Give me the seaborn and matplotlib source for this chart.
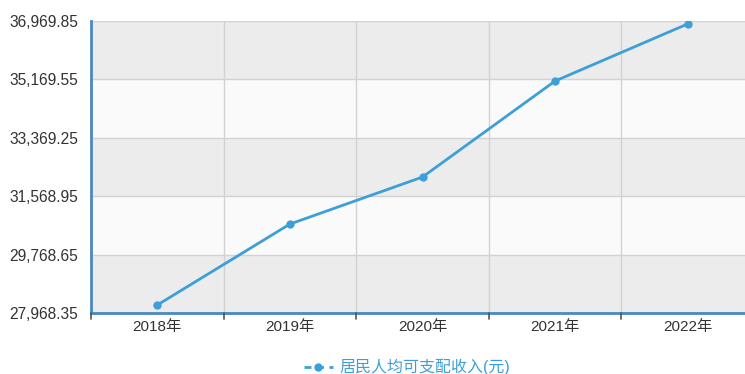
import matplotlib
matplotlib.use("Agg")
import matplotlib.pyplot as plt
import seaborn as sns
import pandas as pd
from matplotlib.lines import Line2D

years = ["2018年", "2019年", "2020年", "2021年", "2022年"]
income = [28215, 30710, 32160, 35120, 36880]
yticks = [27968.35, 29768.65, 31568.95, 33369.25, 35169.55, 36969.85]
series_name = "居民人均可支配收入(元)"

sns.set_theme(style="white")
plt.rcParams['font.family'] = ['Liberation Sans', 'Noto Sans CJK SC', 'DejaVu Sans']

df = pd.DataFrame({"year": years, "income": income, "x": range(len(years))})

fig = plt.figure(figsize=(7.45, 3.74), dpi=100)
W, H = 745, 374
ax = fig.add_axes([91 / W, (H - 313) / H, (754 - 91) / W, (313 - 21) / H])

line_color = "#3d9fd9"
# alternating bands
for i in range(len(yticks) - 1):
    c = "#ececec" if i % 2 == 0 else "#fafafa"
    ax.axhspan(yticks[i], yticks[i + 1], color=c, zorder=0, lw=0)
for y in yticks[1:]:
    ax.axhline(y, color="#d2d2d2", lw=1, zorder=1)
for xb in [0.5, 1.5, 2.5, 3.5]:
    ax.axvline(xb, color="#d2d2d2", lw=1, zorder=1)

sns.lineplot(data=df, x="x", y="income", ax=ax, color=line_color, lw=2,
             marker="o", markersize=6, markeredgewidth=0, zorder=3)

ax.set_xlim(-0.5, 4.5)
ax.set_ylim(yticks[0], yticks[-1])
ax.set_yticks(yticks)
ax.set_yticklabels([f"{v:,.2f}" for v in yticks], fontsize=11.2, color="#333333")
ax.set_xticks(range(len(years)))
ax.set_xticklabels(years, fontsize=11, color="#333333")
ax.tick_params(axis="x", length=0, pad=5)
ax.tick_params(axis="y", length=0, pad=9)
# boundary tick marks
for xb in [-0.5, 0.5, 1.5, 2.5, 3.5]:
    ax.plot([xb, xb], [0, -0.02], transform=ax.get_xaxis_transform(),
            color="#555555", lw=1.2, clip_on=False, zorder=5)
ax.set_xlabel("")
ax.set_ylabel("")
for s in ["top", "right"]:
    ax.spines[s].set_visible(False)
for s in ["left", "bottom"]:
    ax.spines[s].set_color("#4a88c2")
    ax.spines[s].set_linewidth(2)

handle = Line2D([0], [0], color=line_color, lw=2, marker="o", markersize=6,
                markeredgewidth=0, dashes=(2.5, 2))
leg = fig.legend([handle], [series_name], loc="center", bbox_to_anchor=(407 / W, 1 - 367 / H),
                 frameon=False, fontsize=11.5, handlelength=1.8, handletextpad=0.4)
for t in leg.get_texts():
    t.set_color(line_color)

fig.savefig("out.png", dpi=100)
